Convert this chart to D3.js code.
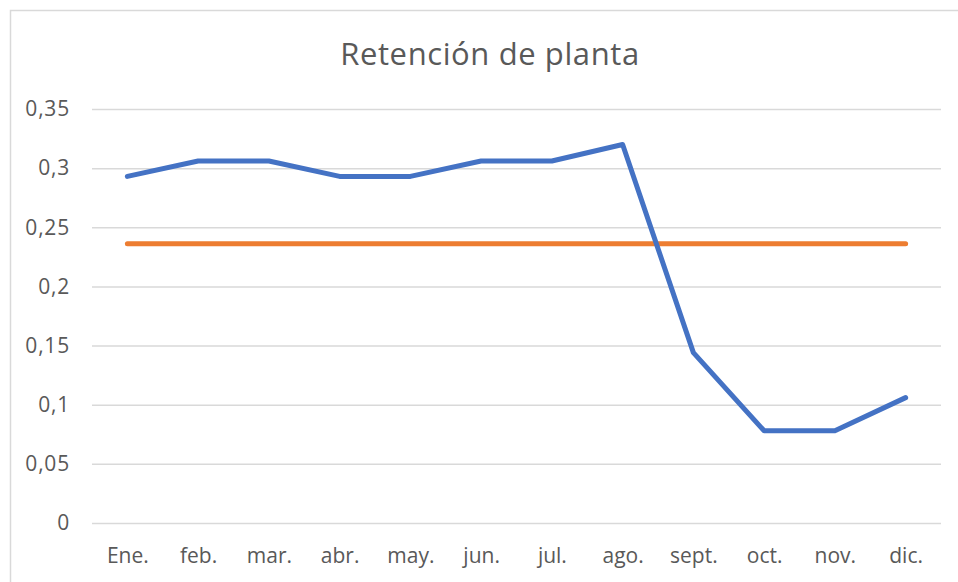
<!DOCTYPE html>
<html>
<head>
<meta charset="utf-8">
<script src="https://cdn.jsdelivr.net/npm/d3@7"></script>
<style>
  body { margin: 0; background: #fff; }
  text { font-family: "Open Sans", sans-serif; fill: #595959; }
</style>
</head>
<body>
<script>
// data
let months = ["Ene.", "feb.", "mar.", "abr.", "may.", "jun.", "jul.", "ago.", "sept.", "oct.", "nov.", "dic."];
let retencion = [0.293, 0.306, 0.306, 0.293, 0.293, 0.306, 0.306, 0.320, 0.144, 0.078, 0.078, 0.106];
let meta = [0.236, 0.236, 0.236, 0.236, 0.236, 0.236, 0.236, 0.236, 0.236, 0.236, 0.236, 0.236];
let yTicks = [0, 0.05, 0.1, 0.15, 0.2, 0.25, 0.3, 0.35];

let w = 958, h = 582;
let plotLeft = 92, plotRight = 941, plotTop = 109, plotBottom = 523;
let font = "'Open Sans', sans-serif";

let svg = d3.select("body").append("svg").attr("width", w).attr("height", h);

// chart border
svg.append("rect")
  .attr("x", 10.5).attr("y", 10.5)
  .attr("width", 980).attr("height", 600)
  .attr("fill", "#fff")
  .attr("stroke", "#d9d9d9")
  .attr("stroke-width", 1.5);

let x = d3.scalePoint().domain(months).range([plotLeft, plotRight]).padding(0.5);
let y = d3.scaleLinear().domain([0, 0.35]).range([plotBottom, plotTop]);

let fmt = d => String(+d.toFixed(2)).replace(".", ",");

let yAxis = svg.append("g")
  .attr("transform", "translate(" + plotLeft + ",0)")
  .call(d3.axisLeft(y).tickValues(yTicks).tickFormat(fmt).tickSize(-(plotRight - plotLeft)).tickPadding(22));
yAxis.select(".domain").remove();
yAxis.selectAll("line").attr("stroke", "#d9d9d9").attr("stroke-width", 1.5);
yAxis.selectAll("text").attr("font-size", "21px").attr("fill", "#595959")
  .attr("letter-spacing", "0.8px")
  .style("font-family", font);

let xAxis = svg.append("g")
  .attr("transform", "translate(0," + plotBottom + ")")
  .call(d3.axisBottom(x).tickSize(0).tickPadding(25));
xAxis.select(".domain").remove();
xAxis.selectAll("text").attr("font-size", "21px").attr("fill", "#595959")
  .style("font-family", font);

let line = d3.line()
  .x((d, i) => x(months[i]))
  .y(d => y(d));

svg.append("path")
  .datum(meta)
  .attr("d", line)
  .attr("fill", "none")
  .attr("stroke", "#ED7D31")
  .attr("stroke-width", 5)
  .attr("stroke-linejoin", "round")
  .attr("stroke-linecap", "round");

svg.append("path")
  .datum(retencion)
  .attr("d", line)
  .attr("fill", "none")
  .attr("stroke", "#4472C4")
  .attr("stroke-width", 5)
  .attr("stroke-linejoin", "round")
  .attr("stroke-linecap", "round");

svg.append("text")
  .attr("x", 490)
  .attr("y", 65)
  .attr("text-anchor", "middle")
  .attr("font-size", "31px")
  .attr("letter-spacing", "0.6px")
  .style("font-family", font)
  .text("Retención de planta");
</script>
</body>
</html>
